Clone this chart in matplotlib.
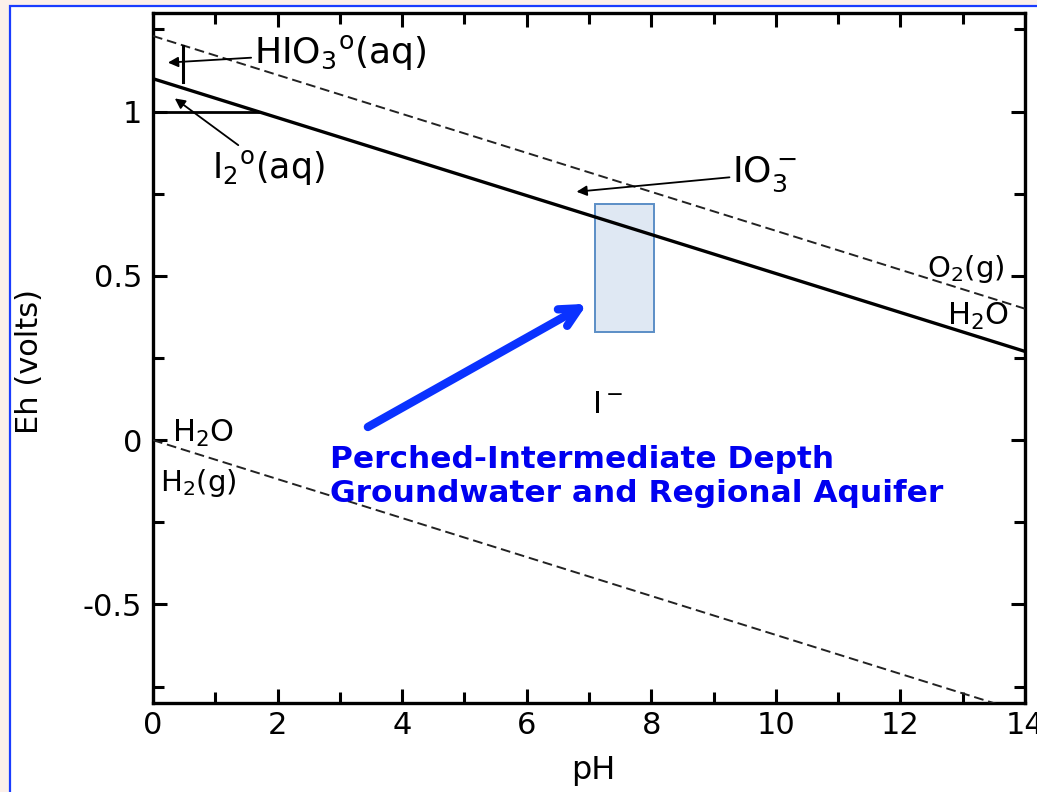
import matplotlib
matplotlib.use("Agg")
from matplotlib import pyplot as plt
from matplotlib.patches import Rectangle

plt.rcParams['font.family'] = ['DejaVu Sans']
plt.rcParams['mathtext.default'] = 'regular'
plt.rcParams['axes.unicode_minus'] = False

# stability lines (end points at pH 0 and pH 14)
ph_ends = [0, 14]
io3_i = [1.10, 0.27]          # IO3- / I- boundary
o2_h2o = [1.23, 0.40]         # upper water limit
h2o_h2 = [0.00, -0.83]        # lower water limit
i2_ph = [0, 1.7]
i2_eh = [1.0, 1.0]
hio3_ph = [0.48, 0.48]
hio3_eh = [1.09, 1.20]

# groundwater box
box_ph = [7.1, 8.05]
box_eh = [0.33, 0.72]

xticks = [0, 2, 4, 6, 8, 10, 12, 14]
yticks = [-0.5, 0, 0.5, 1]
ytick_labels = ["-0.5", "0", "0.5", "1"]

fig = plt.figure(figsize=(10.37, 7.92), dpi=100, facecolor='#fcf0ea')
# slide frame
fig.patches.append(Rectangle((10/1037, -0.05), 1.1, (792-6)/792 + 0.05,
                             transform=fig.transFigure, facecolor='white',
                             edgecolor='#1a3cff', lw=1.6, zorder=-10))

ax = fig.add_axes([153/1037, 1 - 703/792, (1025-153)/1037, (703-13)/792])
ax.set_facecolor('white')

dash = (0, (5, 2.5))
ax.plot(ph_ends, io3_i, color='black', lw=2.4, zorder=3)
ax.plot(ph_ends, o2_h2o, color='#222222', lw=1.4, ls=dash, zorder=3)
ax.plot(ph_ends, h2o_h2, color='#222222', lw=1.4, ls=dash, zorder=3)
ax.plot(i2_ph, i2_eh, color='black', lw=2.0, zorder=3)
ax.plot(hio3_ph, hio3_eh, color='black', lw=2.2, zorder=3)

ax.add_patch(Rectangle((box_ph[0], box_eh[0]), box_ph[1] - box_ph[0], box_eh[1] - box_eh[0],
                       facecolor='#dfe8f3', edgecolor='#5b8ec6', lw=1.4, zorder=2))

arrow = dict(arrowstyle='-|>', color='black', lw=1.3, mutation_scale=15, shrinkA=0, shrinkB=0)
ax.annotate('HIO$_3$$^o$(aq)', xy=(0.24, 1.149), xytext=(1.62, 1.18),
            fontsize=26, va='center', ha='left', arrowprops=arrow)
ax.annotate('I$_2$$^o$(aq)', xy=(0.35, 1.04), xytext=(0.95, 0.83),
            fontsize=25, va='center', ha='left', arrowprops=arrow)
ax.annotate('IO$_3^-$', xy=(6.8, 0.756), xytext=(9.3, 0.81),
            fontsize=26, va='center', ha='left', arrowprops=arrow)

ax.text(12.42, 0.52, 'O$_2$(g)', fontsize=21, va='center')
ax.text(12.75, 0.375, 'H$_2$O', fontsize=22, va='center')
ax.text(0.3, 0.02, 'H$_2$O', fontsize=22, va='center')
ax.text(0.12, -0.13, 'H$_2$(g)', fontsize=21, va='center')
ax.text(7.05, 0.107, 'I$^-$', fontsize=22, va='center')

ax.annotate('', xy=(6.97, 0.415), xytext=(3.45, 0.04),
            arrowprops=dict(arrowstyle='->', color='#0a32ff', lw=6, mutation_scale=34,
                            shrinkA=0, shrinkB=0))
ax.text(2.84, -0.015, 'Perched-Intermediate Depth\nGroundwater and Regional Aquifer',
        color='#0000f0', fontsize=22.5, fontweight='bold', va='top', ha='left',
        linespacing=1.2)

ax.set_xlim(0, 14)
ax.set_ylim(-0.8, 1.3)
ax.set_xticks(xticks)
ax.set_xticks(range(1, 14, 2), minor=True)
ax.set_yticks(yticks)
ax.set_yticklabels(ytick_labels)
ax.set_yticks([-0.75, -0.25, 0.25, 0.75, 1.25], minor=True)
ax.tick_params(which='both', direction='in', top=True, right=True, width=2.2, labelsize=22)
ax.tick_params(which='major', length=10, pad=6)
ax.tick_params(which='minor', length=8)
ax.tick_params(axis='y', which='major', pad=8)
for s in ax.spines.values():
    s.set_linewidth(2.4)

ax.set_xlabel('pH', fontsize=23)
ax.set_ylabel('Eh (volts)', fontsize=22)
ax.xaxis.set_label_coords(0.505, -0.075)
ax.yaxis.set_label_coords(-0.125, 0.495)

plt.savefig("out.png", dpi=100, facecolor=fig.get_facecolor())
